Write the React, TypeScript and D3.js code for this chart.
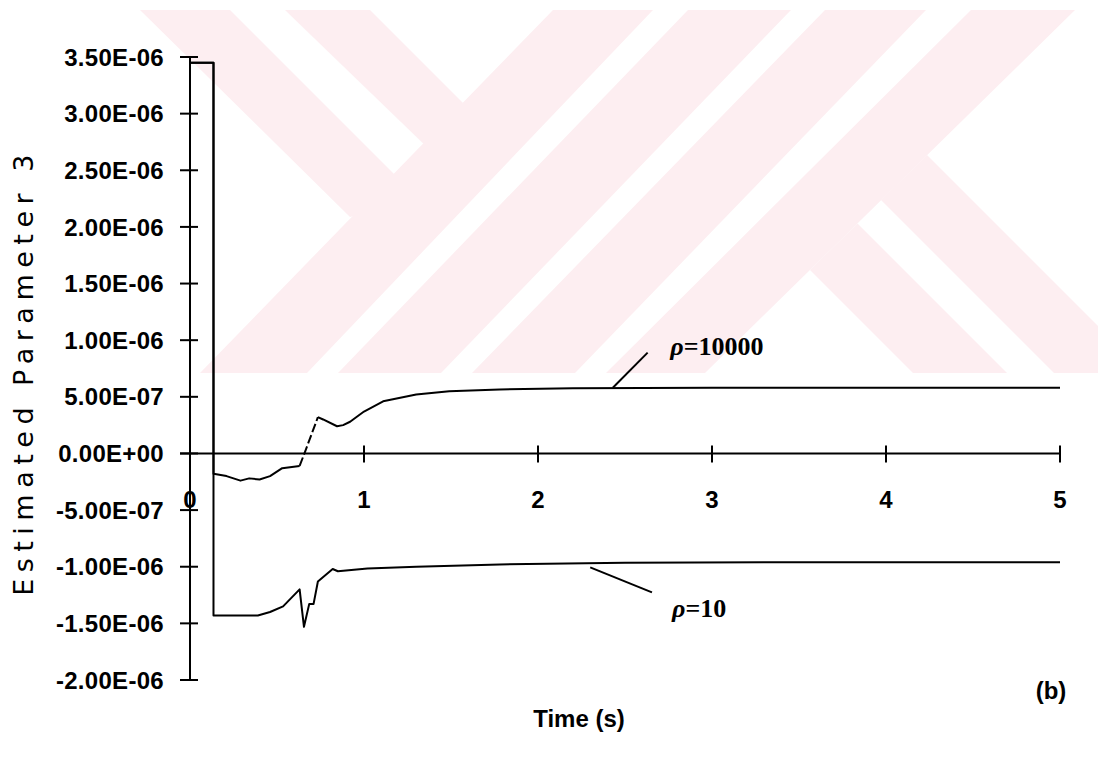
import React from "react";
import * as d3 from "d3";

// ---- data ----
const tRho10000 = [0, 0.135, 0.135, 0.21, 0.29, 0.34, 0.4, 0.46, 0.53, 0.63, 0.655, 0.735, 0.765, 0.845, 0.88, 0.92, 1.0, 1.11, 1.3, 1.49, 1.78, 2.2, 3.0, 4.0, 5.0];
const vRho10000 = [3.45, 3.45, -0.18, -0.2, -0.24, -0.22, -0.23, -0.2, -0.13, -0.11, -0.01, 0.32, 0.3, 0.24, 0.25, 0.28, 0.37, 0.46, 0.52, 0.55, 0.565, 0.575, 0.58, 0.58, 0.58];
const tRho10 = [0, 0.135, 0.135, 0.39, 0.46, 0.535, 0.63, 0.655, 0.685, 0.71, 0.735, 0.82, 0.85, 1.02, 1.3, 1.78, 2.5, 3.5, 5.0];
const vRho10 = [3.45, 3.45, -1.43, -1.43, -1.4, -1.35, -1.2, -1.53, -1.33, -1.33, -1.13, -1.02, -1.04, -1.015, -1.0, -0.98, -0.965, -0.96, -0.96];
const SCALE = 1e-6;

const xTicks = [0, 1, 2, 3, 4, 5];
const xTickLabels = ["0", "1", "2", "3", "4", "5"];
const yTicks = [-2.0, -1.5, -1.0, -0.5, 0, 0.5, 1.0, 1.5, 2.0, 2.5, 3.0, 3.5];
const yTickLabels = ["-2.00E-06", "-1.50E-06", "-1.00E-06", "-5.00E-07", "0.00E+00", "5.00E-07", "1.00E-06", "1.50E-06", "2.00E-06", "2.50E-06", "3.00E-06", "3.50E-06"];

// annotations (data coords: t, value*1e-6)
const annot10000 = { from: [2.43, 0.58], to: [2.63, 0.89], label: [2.76, 0.87], text: "ρ=10000" };
const annot10 = { from: [2.3, -1.006], to: [2.655, -1.227], label: [2.77, -1.447], text: "ρ=10" };

// watermark stripes (decorative background), pixel polygons
const watermark: [number, number][][] = [
  [[140, 10], [230, 10], [420, 200], [350, 217]],
  [[285, 10], [370, 10], [463, 103], [430, 150]],
  [[553, 10], [653, 10], [307, 373], [200, 373]],
  [[688, 10], [791, 10], [441, 373], [338, 373]],
  [[825, 10], [926, 10], [575, 373], [472, 373]],
  [[971, 10], [1075, 10], [705, 373], [606, 373]],
  [[927, 155], [881, 200], [1054, 373], [1145, 373]],
  [[857.5, 223.5], [810, 270], [913, 373], [1007, 373]],
];

export default function App() {
  const W = 1098, H = 761;
  const x = d3.scaleLinear().domain([0, 5]).range([190, 1060]);
  const y = d3.scaleLinear().domain([-2e-6, 3.5e-6]).range([680, 57]);
  const line = d3.line<[number, number]>().x(d => x(d[0])).y(d => y(d[1] * SCALE));

  const pts10000: [number, number][] = tRho10000.map((t, i) => [t, vRho10000[i]]);
  const pts10: [number, number][] = tRho10.map((t, i) => [t, vRho10[i]]);
  const dashStart = 9, dashEnd = 11;
  const partA = pts10000.slice(0, dashStart + 1);
  const partB = pts10000.slice(dashStart, dashEnd + 1);
  const partC = pts10000.slice(dashEnd);

  const wm = d3.line<[number, number]>().x(d => d[0]).y(d => d[1]);
  const tickFont = "'Liberation Sans', Arial, sans-serif";
  const y0 = y(0);

  return (
    <div style={{ position: "absolute", left: 0, top: 0 }}>
      <svg width={W} height={H} style={{ display: "block", background: "#fff" }}>
        <defs>
          <clipPath id="wmclip">
            <rect x={0} y={10} width={W} height={363} />
          </clipPath>
        </defs>
        <g clipPath="url(#wmclip)">
          {watermark.map((p, i) => (
            <path key={i} d={wm(p) + "Z"} fill="#fdeef1" />
          ))}
        </g>

        {/* y axis */}
        <line x1={x(0)} x2={x(0)} y1={y(3.5e-6)} y2={y(-2e-6)} stroke="#000" strokeWidth={2} />
        {yTicks.map((v, i) => (
          <g key={i}>
            <line x1={x(0) - 10} x2={x(0) + 8} y1={y(v * SCALE)} y2={y(v * SCALE)} stroke="#000" strokeWidth={2} />
            <text x={164} y={y(v * SCALE)} dy="0.36em" textAnchor="end" fontFamily={tickFont} fontWeight="bold" fontSize={24} letterSpacing={0.3} fill="#000">
              {yTickLabels[i]}
            </text>
          </g>
        ))}

        {/* x axis */}
        <line x1={x(0) - 10} x2={x(5)} y1={y0} y2={y0} stroke="#000" strokeWidth={2} />
        {xTicks.map((t, i) => (
          <g key={i}>
            {t > 0 && <line x1={x(t)} x2={x(t)} y1={y0 - 8} y2={y0 + 9} stroke="#000" strokeWidth={2} />}
            <text x={x(t)} y={508} textAnchor="middle" fontFamily={tickFont} fontWeight="bold" fontSize={24} fill="#000">
              {xTickLabels[i]}
            </text>
          </g>
        ))}

        {/* series */}
        <path d={line(pts10) || ""} fill="none" stroke="#000" strokeWidth={2} strokeLinejoin="round" />
        <path d={line(partA) || ""} fill="none" stroke="#000" strokeWidth={2} strokeLinejoin="round" />
        <path d={line(partB) || ""} fill="none" stroke="#000" strokeWidth={2} strokeDasharray="9,3" />
        <path d={line(partC) || ""} fill="none" stroke="#000" strokeWidth={2} strokeLinejoin="round" />

        {/* annotations */}
        {[annot10000, annot10].map((a, i) => (
          <g key={i}>
            <line x1={x(a.from[0])} y1={y(a.from[1] * SCALE)} x2={x(a.to[0])} y2={y(a.to[1] * SCALE)} stroke="#000" strokeWidth={2} />
            <text x={x(a.label[0])} y={y(a.label[1] * SCALE)} fontFamily="'Liberation Serif', 'Times New Roman', serif" fontWeight="bold" fontSize={26} fill="#000">
              <tspan fontStyle="italic">{a.text.slice(0, 1)}</tspan>
              <tspan>{a.text.slice(1)}</tspan>
            </text>
          </g>
        ))}

        {/* titles */}
        <text transform={`translate(33, ${372}) rotate(-90)`} textAnchor="middle" fontFamily="'DejaVu Sans', sans-serif" fontSize={27} letterSpacing={6.5} fill="#000">
          Estimated Parameter 3
        </text>
        <text x={579} y={727} textAnchor="middle" fontFamily={tickFont} fontWeight="bold" fontSize={24} fill="#000">Time (s)</text>
        <text x={1051} y={699} textAnchor="middle" fontFamily={tickFont} fontWeight="bold" fontSize={24} fill="#000">(b)</text>
      </svg>
    </div>
  );
}
